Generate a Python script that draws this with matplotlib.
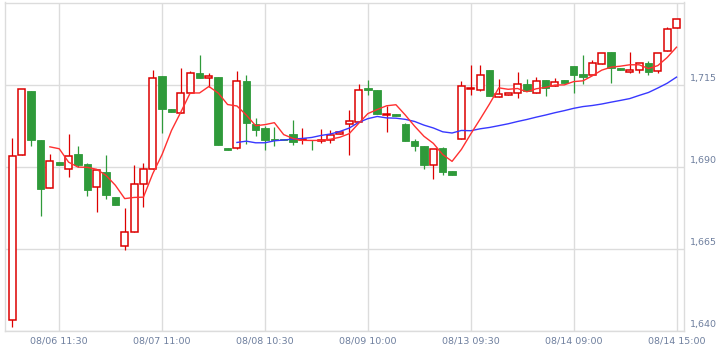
import numpy as np
import pandas as pd
import matplotlib
matplotlib.use("Agg")
import matplotlib.pyplot as plt
import matplotlib.transforms as mtransforms

# --- Dados (OHLC, 72 candles) ---
abertura = [1643.4, 1693.7, 1713.0, 1698.0, 1683.6, 1691.3, 1689.4, 1693.8, 1690.7, 1683.8,
            1688.5, 1680.9, 1665.9, 1670.2, 1684.6, 1689.3, 1717.5, 1707.6, 1706.5, 1712.6,
            1718.4, 1717.1, 1717.2, 1695.7, 1695.7, 1716.0, 1703.1, 1701.7, 1698.4, 1698.5,
            1700.1, 1698.0, 1698.1, 1697.8, 1698.0, 1700.1, 1703.1, 1703.6, 1713.9, 1713.3,
            1705.9, 1706.2, 1702.9, 1697.7, 1696.2, 1690.6, 1695.7, 1688.6, 1698.5, 1713.7,
            1713.5, 1719.4, 1711.3, 1711.8, 1712.4, 1715.3, 1712.6, 1716.3, 1714.5, 1716.3,
            1720.6, 1718.2, 1717.8, 1721.4, 1724.8, 1720.1, 1718.8, 1719.3, 1721.7, 1719.0,
            1725.1, 1732.1]
maxima = [1698.9, 1713.8, 1713.0, 1698.0, 1693.8, 1691.3, 1700.1, 1696.2, 1691.0, 1689.4,
          1693.5, 1680.9, 1677.5, 1690.5, 1691.1, 1719.6, 1717.5, 1707.6, 1720.2, 1719.0,
          1723.9, 1718.5, 1717.2, 1695.7, 1719.1, 1717.9, 1704.9, 1702.3, 1702.1, 1698.5,
          1704.3, 1701.8, 1698.1, 1701.6, 1701.1, 1700.5, 1707.4, 1715.3, 1716.5, 1713.3,
          1708.5, 1706.2, 1703.2, 1698.3, 1696.2, 1695.5, 1696.0, 1688.6, 1716.0, 1720.9,
          1720.9, 1719.4, 1716.6, 1712.3, 1718.7, 1716.8, 1717.3, 1716.3, 1717.1, 1716.3,
          1720.6, 1723.9, 1722.6, 1724.5, 1724.8, 1720.1, 1724.8, 1721.7, 1722.1, 1724.6,
          1732.5, 1735.1]
minima = [1641.1, 1693.7, 1696.2, 1675.1, 1683.6, 1690.5, 1686.8, 1689.9, 1681.2, 1676.3,
          1680.1, 1678.3, 1664.7, 1670.2, 1677.7, 1689.3, 1700.2, 1706.6, 1706.5, 1712.6,
          1717.1, 1714.3, 1696.6, 1695.1, 1695.5, 1697.0, 1699.5, 1695.2, 1696.2, 1698.0,
          1696.7, 1697.0, 1695.2, 1697.2, 1697.2, 1700.1, 1693.7, 1703.6, 1711.7, 1706.0,
          1700.7, 1705.4, 1697.8, 1694.8, 1689.4, 1686.3, 1687.6, 1687.4, 1698.5, 1711.7,
          1713.0, 1711.5, 1711.3, 1711.8, 1711.0, 1713.0, 1712.6, 1711.4, 1714.5, 1715.5,
          1712.3, 1715.3, 1717.8, 1721.4, 1715.6, 1719.5, 1718.5, 1718.5, 1718.0, 1718.4,
          1725.1, 1732.1]
fechamento = [1693.4, 1713.8, 1698.0, 1683.2, 1691.9, 1690.5, 1693.4, 1690.5, 1682.8, 1688.9,
              1681.3, 1678.3, 1670.2, 1684.6, 1689.3, 1717.1, 1707.6, 1706.6, 1712.6, 1718.4,
              1717.1, 1717.5, 1696.6, 1695.1, 1716.2, 1703.3, 1701.3, 1698.2, 1698.1, 1698.0,
              1697.5, 1698.4, 1698.0, 1698.2, 1699.8, 1700.5, 1703.8, 1713.5, 1713.3, 1706.0,
              1706.2, 1705.4, 1697.8, 1696.3, 1690.6, 1695.5, 1688.4, 1687.4, 1714.5, 1714.1,
              1718.0, 1711.5, 1712.0, 1712.3, 1715.3, 1713.0, 1716.1, 1714.1, 1715.9, 1715.5,
              1718.0, 1717.3, 1721.7, 1724.5, 1720.1, 1719.5, 1719.4, 1721.7, 1718.8, 1724.6,
              1731.8, 1735.1]

posicoes_ticks = [5, 16, 27, 38, 49, 60, 71]
rotulos_ticks = ['08/06 11:30', '08/07 11:00', '08/08 10:30', '08/09 10:00',
                 '08/13 09:30', '08/14 09:00', '08/14 15:00']
valores_y = [1640, 1665, 1690, 1715]

# --- Configuração ---
cor_alta = '#dd0000'
cor_baixa = '#2f9a3a'
cor_grade = '#dcdcdc'
cor_texto = '#6e7f9e'

df = pd.DataFrame({'o': abertura, 'h': maxima, 'l': minima, 'c': fechamento})
df['ma5'] = df['c'].rolling(5).mean()
df['ma25'] = df['c'].rolling(25).mean()
x = np.arange(len(df))
alta = df['c'] >= df['o']

fig = plt.figure(figsize=(7.26, 3.55), dpi=100)
ax = fig.add_axes([5 / 726, 24 / 355, 679 / 726, 328.5 / 355])

# pavios
cores = np.where(alta, cor_alta, cor_baixa)
ax.vlines(x, df['l'], df['h'], colors=cores, linewidth=0.9, zorder=2)

# corpos
base = np.minimum(df['o'], df['c'])
altura = (df['c'] - df['o']).abs()
ax.bar(x[alta], altura[alta], bottom=base[alta], width=0.76,
       facecolor='white', edgecolor=cor_alta, linewidth=1.1, zorder=3)
ax.bar(x[~alta], altura[~alta], bottom=base[~alta], width=0.8,
       facecolor=cor_baixa, edgecolor=cor_baixa, linewidth=0.6, zorder=3)

# médias móveis
ax.plot(x, df['ma25'], color='#3838ff', linewidth=1.0, zorder=4)
ax.plot(x, df['ma5'], color='#ff3030', linewidth=1.0, zorder=4)

ax.set_xlim(-0.8, 71.8)
ax.set_ylim(1640, 1740)

ax.set_xticks(posicoes_ticks)
ax.set_xticklabels(rotulos_ticks)
ax.set_yticks(valores_y)
ax.set_yticklabels([f'{v:,}' for v in valores_y])
ax.yaxis.tick_right()
ax.tick_params(axis='both', length=0, labelsize=6.8, labelcolor=cor_texto)
ax.tick_params(axis='x', pad=4)
ax.tick_params(axis='y', pad=4)
desloca = mtransforms.ScaledTranslation(0, 1.5 / 100, fig.dpi_scale_trans)
for lab in ax.get_yticklabels():
    lab.set_va('bottom')
    lab.set_transform(lab.get_transform() + desloca)

ax.grid(True, color=cor_grade, linewidth=1.0, zorder=0)
ax.set_axisbelow(True)
for lado in ax.spines.values():
    lado.set_color(cor_grade)
    lado.set_linewidth(1.0)

plt.savefig('out.png', dpi=100)
plt.close()
